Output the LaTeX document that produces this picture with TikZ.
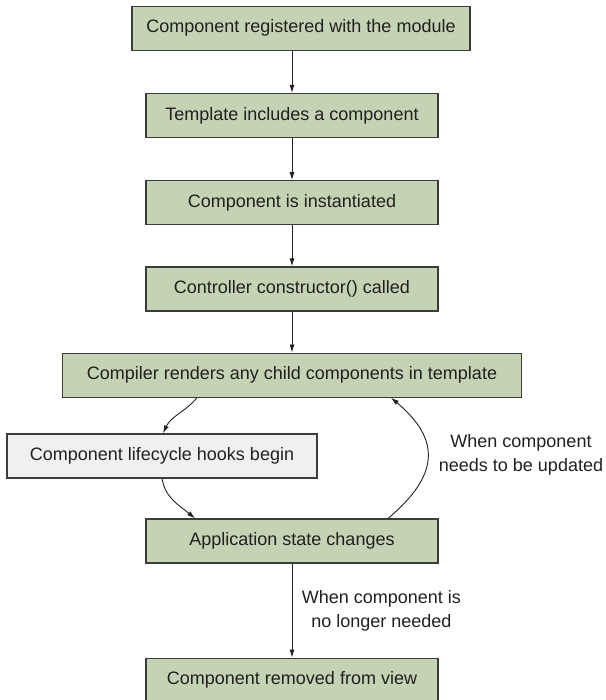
\documentclass[tikz,border=0pt]{standalone}
\usepackage{fontspec}
\setmainfont{Liberation Sans}
\usepackage{tikz}
\usetikzlibrary{arrows.meta, calc, positioning}
\usepackage{xcolor}
\definecolor{StepGreen}{RGB}{195, 211, 180}
\definecolor{HookGray}{RGB}{240, 240, 242}
\definecolor{RichBlack}{RGB}{35, 31, 32}
\definecolor{EdgeGray}{RGB}{60, 60, 60}
\tikzset{%
  stage/.style={%
    rectangle,%
    draw=EdgeGray,%
    line width=1.2pt,%
    fill=StepGreen,%
    text=RichBlack,%
    minimum width=292pt,%
    minimum height=44pt,%
    font={\fontsize{18}{24}\selectfont},%
    align=center%
  },
  hook_stage/.style={%
    stage,%
    fill=HookGray,%
  },
  flow_path/.style={%
    color=RichBlack,%
    line width=0.9pt,%
    line join=round,%
  },
  flow_annotate/.style={%
    text=RichBlack,%
    font={\fontsize{18}{24}\selectfont},%
    align=center,%
  },
  arrow/.style={-{Latex[length=8pt, width=5pt]}},
}
\begin{document}
\begin{tikzpicture}[x=1pt, y=1pt]
  \useasboundingbox (0, 0) rectangle (605, -700);

  \node [stage] (Template) at (292, -115.5) {Template includes a component};
  \node [stage, minimum width=338pt, above = 42pt of Template, xshift=9pt]
    (Registered) {Component registered with the module};
  \node [stage, below = 42pt of Template] (Instantiated) {Component is instantiated};
  \node [stage, below = 41pt of Instantiated] (Constructor) {Controller constructor() called};
  \node [stage, minimum width=459pt, below = 41pt of Constructor]
    (Render) {Compiler renders any child components in template};
  \node [hook_stage, minimum width=310pt] (Hooks) at (162, -456) {Component lifecycle hooks begin};
  \node [stage] (StateChange) at (292, -541) {Application state changes};
  \node [stage, below = 94pt of StateChange] (Removed) {Component removed from view};

  \node [flow_annotate] (UpdateNote) at (521, -455) {When component\\needs to be updated};

  \draw [arrow, flow_path]
    (Registered.south -| Template.north)
    --
    (Template.north);
  \draw [arrow, flow_path]
    (Template.south)
    --
    (Instantiated.north);
  \draw [arrow, flow_path]
    (Instantiated.south)
    --
    (Constructor.north);
  \draw [arrow, flow_path]
    (Constructor.south)
    --
    (Render.north);
  \draw [arrow, flow_path]
    ([xshift=-95pt]Render.south)
    to [out=-130, in=65]
    ([xshift=1pt]Hooks.north);
  \draw [arrow, flow_path]
    (Hooks.south)
    to [out=-80, in=140]
    ([xshift=-97pt]StateChange.north);
  \draw [arrow, flow_path]
    ([xshift=96pt]StateChange.north)
    to [out=40, in=-40, looseness=1.4]
    ([xshift=99pt]Render.south);
  \draw [arrow, flow_path]
    (StateChange.south)
    --
    node [flow_annotate, right = 6pt] (RemoveNote) {When component is\\no longer needed}
    (Removed.north);
\end{tikzpicture}
\end{document}
